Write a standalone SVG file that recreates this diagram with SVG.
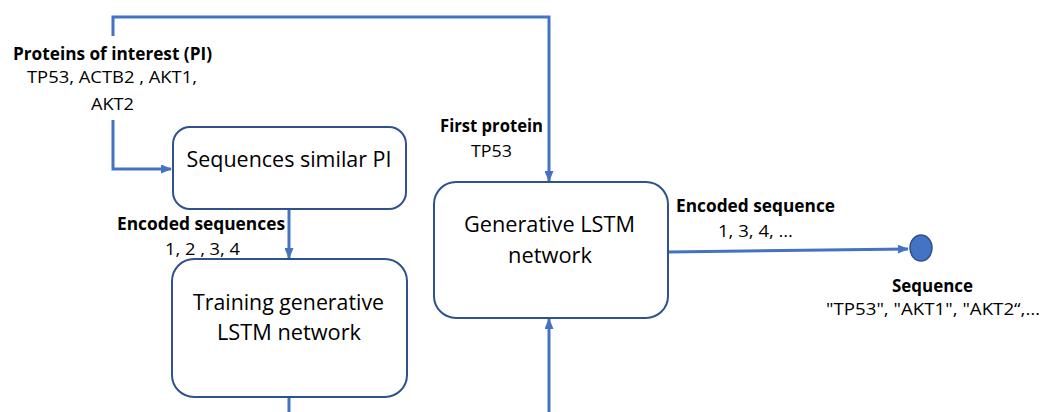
<svg xmlns="http://www.w3.org/2000/svg" width="1043" height="412" viewBox="0 0 1043 412">
  <style>
    .box { fill: #ffffff; stroke: #2F528F; stroke-width: 2; }
    .wire { fill: none; stroke: #4472C4; stroke-width: 3; }
    .node-text { font-family: "Open Sans", "Liberation Sans", sans-serif; font-size: 21.5px; fill: #000; text-anchor: middle; }
    .lbl { font-family: "Open Sans", "Liberation Sans", sans-serif; font-size: 17px; font-weight: bold; fill: #000; text-anchor: middle; }
    .val { font-family: "Open Sans", "Liberation Sans", sans-serif; font-size: 17px; fill: #000; text-anchor: middle; }
  </style>
  <defs>
    <marker id="arrow" markerUnits="userSpaceOnUse" markerWidth="11" markerHeight="9" refX="10" refY="4.5" orient="auto">
      <path d="M0,0 L11,4.5 L0,9 z" fill="#4472C4"/>
    </marker>
  </defs>

  <rect width="1043" height="412" fill="#ffffff"/>

  <!-- connectors -->
  <g id="connectors">
    <path class="wire" d="M113,36 V17 H549 V181" marker-end="url(#arrow)"/>
    <path class="wire" d="M113,120 V169 H171" marker-end="url(#arrow)"/>
    <path class="wire" d="M289,209 V258" marker-end="url(#arrow)"/>
    <path class="wire" d="M289,397 V412"/>
    <path class="wire" d="M549,412 V319" marker-end="url(#arrow)"/>
    <path class="wire" d="M668,252 L908,249" marker-end="url(#arrow)"/>
  </g>

  <!-- edge labels -->
  <g id="label-pi">
    <text class="lbl" x="112.5" y="60" textLength="199" lengthAdjust="spacingAndGlyphs">Proteins of interest (PI)</text>
    <text class="val" x="112" y="83" textLength="170" lengthAdjust="spacingAndGlyphs">TP53, ACTB2 , AKT1,</text>
    <text class="val" x="112.5" y="110" textLength="43" lengthAdjust="spacingAndGlyphs">AKT2</text>
  </g>
  <g id="label-encoded-sequences">
    <text class="lbl" x="201" y="230" textLength="168" lengthAdjust="spacingAndGlyphs">Encoded sequences</text>
    <text class="val" x="202.5" y="255" textLength="75" lengthAdjust="spacingAndGlyphs">1, 2 , 3, 4</text>
  </g>
  <g id="label-first-protein">
    <text class="lbl" x="491.5" y="132" textLength="103" lengthAdjust="spacingAndGlyphs">First protein</text>
    <text class="val" x="491.5" y="157" textLength="41" lengthAdjust="spacingAndGlyphs">TP53</text>
  </g>
  <g id="label-encoded-sequence">
    <text class="lbl" x="755.5" y="212" textLength="159" lengthAdjust="spacingAndGlyphs">Encoded sequence</text>
    <text class="val" x="755.5" y="237" textLength="75" lengthAdjust="spacingAndGlyphs">1, 3, 4, …</text>
  </g>

  <!-- nodes -->
  <g id="node-similar">
    <rect class="box" x="173" y="127" width="233" height="82" rx="17"/>
    <text class="node-text" x="289" y="167" textLength="205" lengthAdjust="spacingAndGlyphs">Sequences similar PI</text>
  </g>
  <g id="node-training">
    <rect class="box" x="172" y="259" width="235" height="138" rx="22"/>
    <text class="node-text" x="288.5" y="310" textLength="191" lengthAdjust="spacingAndGlyphs">Training generative</text>
    <text class="node-text" x="289" y="340" textLength="144" lengthAdjust="spacingAndGlyphs">LSTM network</text>
  </g>
  <g id="node-generative">
    <rect class="box" x="434" y="182" width="234" height="136" rx="22"/>
    <text class="node-text" x="549.5" y="232" textLength="171" lengthAdjust="spacingAndGlyphs">Generative LSTM</text>
    <text class="node-text" x="550" y="263" textLength="84" lengthAdjust="spacingAndGlyphs">network</text>
  </g>
  <g id="node-sequence">
    <ellipse cx="921" cy="248" rx="11" ry="13" fill="#4472C4" stroke="#2F528F" stroke-width="1.5"/>
    <text class="lbl" x="932.5" y="292" textLength="81" lengthAdjust="spacingAndGlyphs">Sequence</text>
    <text class="val" x="933" y="315" textLength="214" lengthAdjust="spacingAndGlyphs">"TP53", "AKT1", "AKT2“,…</text>
  </g>
</svg>
